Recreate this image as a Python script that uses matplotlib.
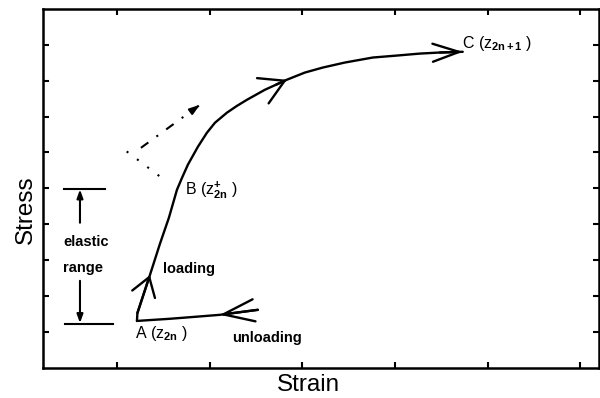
import matplotlib
matplotlib.use('Agg')
import matplotlib.pyplot as plt

plt.rcParams['font.family'] = ['Liberation Sans', 'DejaVu Sans']
plt.rcParams['mathtext.fontset'] = 'custom'
plt.rcParams['mathtext.rm'] = 'Liberation Sans'
plt.rcParams['mathtext.it'] = 'Liberation Sans:italic'
plt.rcParams['mathtext.bf'] = 'Liberation Sans:bold'

# loading path A -> B -> C (strain, stress)
load_x = [1.014, 1.019, 1.154, 1.262, 1.359, 1.446, 1.500, 1.564, 1.672,
          1.769, 1.856, 1.985, 2.093, 2.201, 2.298, 2.395, 2.514, 2.632,
          2.826, 3.020, 3.258, 3.560, 3.797, 4.067, 4.283, 4.531]
load_y = [1.30, 1.52, 2.58, 3.45, 4.18, 4.96, 5.29, 5.66, 6.16,
          6.55, 6.83, 7.11, 7.30, 7.47, 7.61, 7.75, 7.89, 8.03,
          8.23, 8.37, 8.51, 8.65, 8.70, 8.76, 8.79, 8.81]

# unloading path from A
unload_x = [1.014, 1.370, 1.618, 1.909, 2.319]
unload_y = [1.30, 1.36, 1.41, 1.47, 1.61]

# dotted / dash-dot guide lines near B
dot_x = [0.903, 1.334]
dot_y = [6.03, 5.19]
dashdot_x = [1.057, 1.694]
dashdot_y = [6.13, 7.33]

# elastic range bars
elastic_top = 4.98
elastic_bot = 1.21
top_bar_x = [0.227, 0.669]
bot_bar_x = [0.237, 0.755]
range_arrow_x = 0.399
up_arrow_y = [4.04, 4.97]
down_arrow_y = [2.42, 1.24]

xticks = [0.8, 1.8, 2.8, 3.8, 4.8, 5.8]
yticks = [1, 2, 3, 4, 5, 6, 7, 8, 9]

fig = plt.figure(figsize=(6, 3.98), dpi=100)
ax = fig.add_axes([0.0717, 0.0766, 0.9263, 0.9004])
ax.set_xlim(0, 6)
ax.set_ylim(0, 10)
ax.set_xticks(xticks)
ax.set_yticks(yticks)
ax.tick_params(direction='in', length=4, width=1.5, top=True, right=True,
               labelbottom=False, labelleft=False)
for s in ax.spines.values():
    s.set_linewidth(1.8)

lw = 1.7
ax.plot(load_x, load_y, color='black', lw=lw, solid_capstyle='round',
        solid_joinstyle='round')
ax.plot(unload_x, unload_y, color='black', lw=lw, solid_capstyle='round',
        solid_joinstyle='round')

# open chevron arrow heads along the paths
chevrons = [
    (load_x, load_y, 1, 2, 1.3, 0.86),
    (load_x, load_y, 16, 17, 1.73, 1.0),
    (load_x, load_y, 24, 25, 1.9, 0.65),
    (unload_x, unload_y, 4, 3, 2.23, 0.8),
]
for px, py, i0, i1, hl, hw in chevrons:
    ax.annotate('', xy=(px[i1], py[i1]), xytext=(px[i0], py[i0]),
                arrowprops=dict(arrowstyle=f'->,head_length={hl},head_width={hw}',
                                lw=lw, color='black', shrinkA=0, shrinkB=0,
                                mutation_scale=10))

# guide lines
ax.plot(dot_x, dot_y, color='black', lw=1.5, linestyle=(0, (1, 5.2)))
ax.plot(dashdot_x, dashdot_y, color='black', lw=1.5,
        linestyle=(0, (4.4, 4.8, 1, 4.8)))
fx = dashdot_x[1] - 0.1 * (dashdot_x[1] - dashdot_x[0])
fy = dashdot_y[1] - 0.1 * (dashdot_y[1] - dashdot_y[0])
ax.annotate('', xy=(dashdot_x[1], dashdot_y[1]), xytext=(fx, fy),
            arrowprops=dict(arrowstyle='-|>,head_length=0.6,head_width=0.2',
                            lw=1.5, color='black', shrinkA=0, shrinkB=0,
                            mutation_scale=10))

# elastic range
ax.plot(top_bar_x, [elastic_top, elastic_top], color='black', lw=1.5)
ax.plot(bot_bar_x, [elastic_bot, elastic_bot], color='black', lw=1.5)
for ys in (up_arrow_y, down_arrow_y):
    ax.annotate('', xy=(range_arrow_x, ys[1]), xytext=(range_arrow_x, ys[0]),
                arrowprops=dict(arrowstyle='-|>,head_length=0.5,head_width=0.18',
                                lw=1.5, color='black', shrinkA=0, shrinkB=0,
                                mutation_scale=10))

bold = dict(fontsize=10.5, fontweight='bold', va='baseline', ha='left')
ax.text(0.216, 3.39, 'elastic', **bold)
ax.text(0.216, 2.67, 'range', **bold)
ax.text(1.295, 2.65, 'loading', **bold)
ax.text(2.04, 0.71, 'unloading', **bold)

reg = dict(fontsize=11.5, va='baseline', ha='left')
ax.text(0.99, 0.82, r'A ($\mathrm{z}_{\mathbf{2n}}$ )', **reg)
ax.text(1.53, 4.82, r'B ($\mathrm{z}^{\mathbf{+}}_{\mathbf{2n}}$ )', **reg)
ax.text(4.52, 8.92, r'C ($\mathrm{z}_{\mathbf{2n+1}}$ )', **reg)

fig.text(308 / 600, 7 / 398, 'Strain', fontsize=17.5, ha='center', va='baseline')
fig.text(26 / 600, 188 / 398, 'Stress', fontsize=17.5, rotation=90,
         ha='center', va='center')

fig.savefig('out.png', dpi=100)
